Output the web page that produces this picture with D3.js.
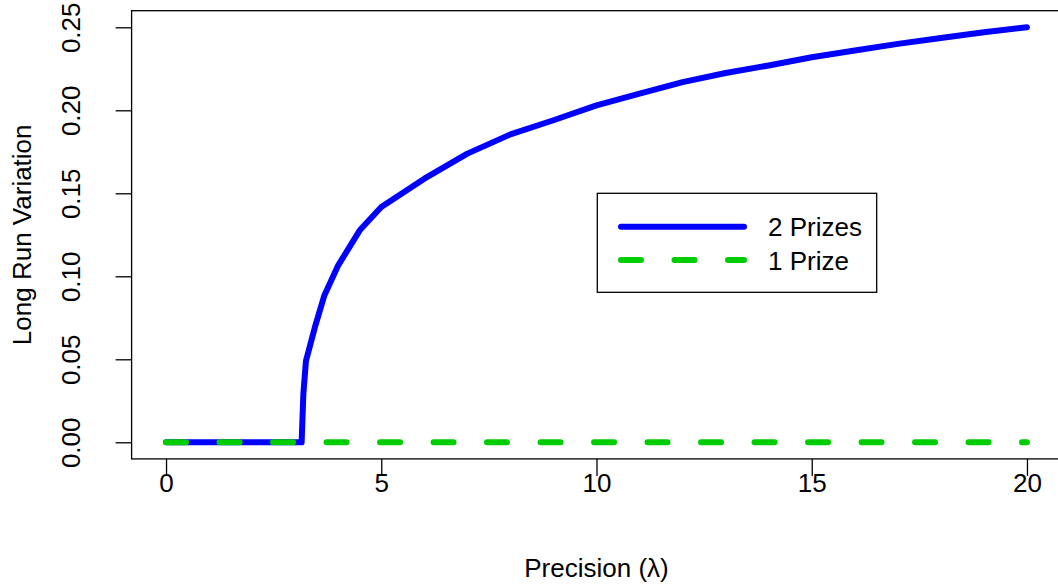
<!DOCTYPE html>
<html>
<head>
<meta charset="utf-8">
<script src="https://cdn.jsdelivr.net/npm/d3@7"></script>
<style>
  html, body { margin: 0; padding: 0; background: #ffffff; }
  svg { display: block; }
  text { font-family: "Liberation Sans", Arial, Helvetica, sans-serif; fill: #000; }
</style>
</head>
<body>
<svg id="chart" width="1058" height="586"></svg>
<script>
// Long-run variation against precision, two prize schemes
const lambda2 = [0, 1, 2, 3, 3.15, 3.19, 3.25, 3.46, 3.68, 4, 4.5, 5, 6, 7, 8, 9, 10, 11, 12, 13, 14, 15, 16, 17, 18, 19, 20];
const variation2 = [0, 0, 0, 0, 0, 0.029, 0.049, 0.0695, 0.0886, 0.1066, 0.1277, 0.1417, 0.1588, 0.1739, 0.1855, 0.194, 0.203, 0.210, 0.217, 0.2225, 0.227, 0.232, 0.236, 0.240, 0.2435, 0.247, 0.250];

const lambda1 = [0, 5, 10, 15, 20];
const variation1 = [0, 0, 0, 0, 0];

const xTicks = [0, 5, 10, 15, 20];
const yTicks = [0, 0.05, 0.10, 0.15, 0.20, 0.25];
const yTickLabels = ["0.00", "0.05", "0.10", "0.15", "0.20", "0.25"];

const seriesNames = ["2 Prizes", "1 Prize"];
const seriesColors = ["#0000ff", "#00cd00"];

const svg = d3.select("#chart");

// plot region with 4% padding on each side of the data range
const x = d3.scaleLinear().domain([-0.8, 20.8]).range([131.6, 1061.4]);
const y = d3.scaleLinear().domain([-0.01, 0.26]).range([458.9, 10.7]);

const fontPx = 26;

// x axis
const xAxis = svg.append("g")
  .attr("transform", `translate(0,${y.range()[0]})`)
  .call(d3.axisBottom(x).tickValues(xTicks).tickSize(17).tickPadding(0).tickFormat(d3.format("d")));
xAxis.select(".domain").remove();
xAxis.selectAll(".tick line").attr("stroke", "#000").attr("stroke-width", 1.3);
xAxis.selectAll(".tick text")
  .attr("y", 33).attr("dy", null)
  .style("font-size", fontPx + "px")
  .style("font-family", "Liberation Sans, Arial, sans-serif")
  .attr("fill", "#000");

// y axis, labels drawn parallel to the axis
const yAxis = svg.append("g")
  .attr("transform", `translate(${x.range()[0]},0)`)
  .call(d3.axisLeft(y).tickValues(yTicks).tickSize(16).tickFormat((d, i) => yTickLabels[i]));
yAxis.select(".domain").remove();
yAxis.selectAll(".tick line").attr("stroke", "#000").attr("stroke-width", 1.3);
yAxis.selectAll(".tick text")
  .attr("x", null).attr("dy", null)
  .attr("text-anchor", "middle")
  .attr("transform", "translate(-52,0) rotate(-90)")
  .style("font-size", fontPx + "px")
  .style("font-family", "Liberation Sans, Arial, sans-serif")
  .attr("fill", "#000");

// plot frame
svg.append("rect")
  .attr("x", x.range()[0]).attr("y", y.range()[1])
  .attr("width", x.range()[1] - x.range()[0])
  .attr("height", y.range()[0] - y.range()[1])
  .attr("fill", "none").attr("stroke", "#000").attr("stroke-width", 1.3);

// axis titles
svg.append("text")
  .attr("x", x(10)).attr("y", 577)
  .attr("text-anchor", "middle")
  .style("font-size", fontPx + "px")
  .text("Precision (λ)");

svg.append("text")
  .attr("transform", `translate(31,${(y.range()[0] + y.range()[1]) / 2}) rotate(-90)`)
  .attr("text-anchor", "middle")
  .style("font-size", fontPx + "px")
  .text("Long Run Variation");

const line = d3.line().x(d => x(d[0])).y(d => y(d[1]));

// 2 prizes, solid
svg.append("path")
  .datum(lambda2.map((l, i) => [l, variation2[i]]))
  .attr("d", line)
  .attr("fill", "none")
  .attr("stroke", seriesColors[0])
  .attr("stroke-width", 6)
  .attr("stroke-linecap", "round")
  .attr("stroke-linejoin", "round");

// 1 prize, dashed
svg.append("path")
  .datum(lambda1.map((l, i) => [l, variation1[i]]))
  .attr("d", line)
  .attr("fill", "none")
  .attr("stroke", seriesColors[1])
  .attr("stroke-width", 6)
  .attr("stroke-dasharray", "20 33.5")
  .attr("stroke-linecap", "round");

// legend
const legend = svg.append("g");
legend.append("rect")
  .attr("x", 597.3).attr("y", 193.3)
  .attr("width", 279.4).attr("height", 99)
  .attr("fill", "#fff").attr("stroke", "#000").attr("stroke-width", 1.3);

const rowsY = [226.7, 260];
const dashes = [null, "20 33.5"];
seriesNames.forEach((name, i) => {
  legend.append("line")
    .attr("x1", 621).attr("x2", 744)
    .attr("y1", rowsY[i]).attr("y2", rowsY[i])
    .attr("stroke", seriesColors[i])
    .attr("stroke-width", 6)
    .attr("stroke-linecap", "round")
    .attr("stroke-dasharray", dashes[i]);
  legend.append("text")
    .attr("x", 768).attr("y", rowsY[i] + 9.5)
    .style("font-size", fontPx + "px")
    .text(name);
});
</script>
</body>
</html>
